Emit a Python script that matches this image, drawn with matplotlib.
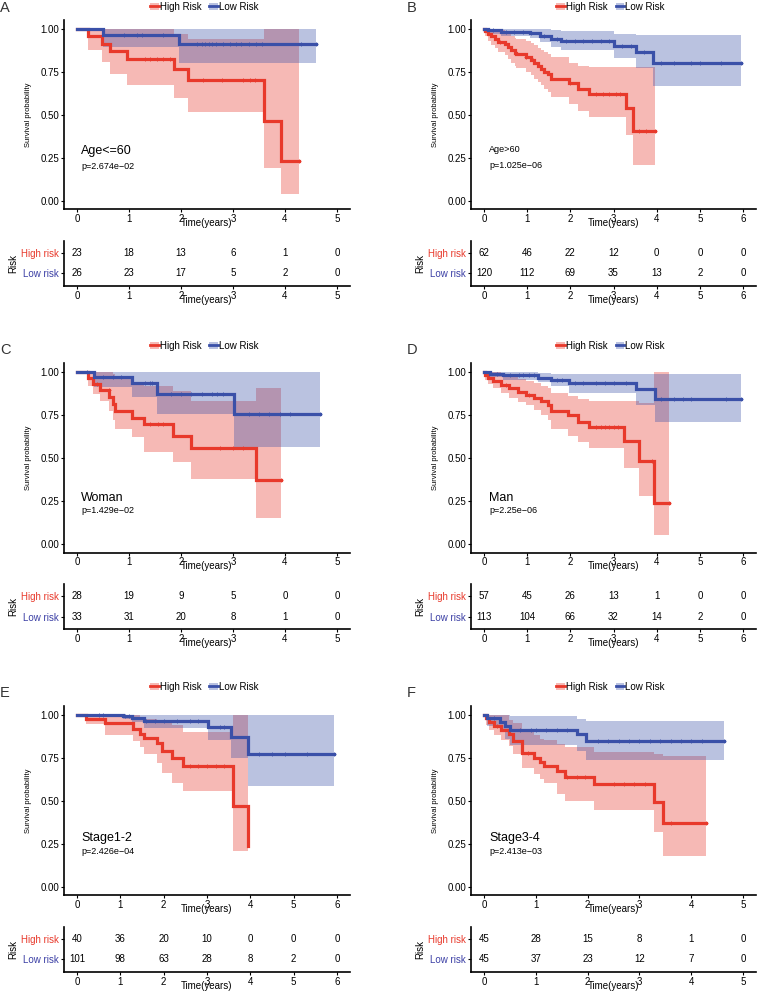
import numpy as np
import matplotlib.pyplot as plt
from matplotlib.patches import Patch
from matplotlib.lines import Line2D

plt.rcParams['font.family'] = ['Liberation Sans', 'DejaVu Sans']

RED = '#E8392B'
BLUE = '#3A50A8'
LOWTXT = '#3B3FA5'

# ---------------- panel A : Age<=60 ----------------
a_high_t = [0, 0.22, 0.48, 0.64, 0.96, 1.87, 2.13, 3.6, 3.93]
a_high_s = [1, 0.957, 0.913, 0.87, 0.826, 0.764, 0.70, 0.463, 0.232]
a_high_lcl = [1, 0.877, 0.805, 0.736, 0.674, 0.596, 0.516, 0.19, 0.04]
a_high_ucl = [1, 1, 1, 1, 1, 0.97, 0.94, 1, 1]
a_high_end = 4.27
a_high_cens = [1.31, 1.41, 1.53, 1.66, 1.79, 2.43, 2.78, 3.2, 3.32, 3.42, 4.27]
a_low_t = [0, 0.5, 1.97]
a_low_s = [1, 0.962, 0.912]
a_low_lcl = [1, 0.895, 0.80]
a_low_ucl = [1, 1, 1]
a_low_end = 4.6
a_low_cens = [0.9, 1.15, 1.25, 1.66, 2.3, 2.4, 2.47, 2.54, 2.6, 2.68, 2.8,
              2.95, 3.05, 3.15, 3.3, 3.45, 3.55, 4.3, 4.6]
a_risk_high = [23, 18, 13, 6, 1, 0]
a_risk_low = [26, 23, 17, 5, 2, 0]

# ---------------- panel B : Age>60 ----------------
b_high_t = [0, 0.03, 0.09, 0.17, 0.25, 0.32, 0.48, 0.55, 0.63, 0.71, 0.75, 0.98,
            1.09, 1.17, 1.25, 1.32, 1.40, 1.48, 1.55, 1.98, 2.17, 2.44, 3.28, 3.46]
b_high_s = [1, 0.985, 0.97, 0.955, 0.94, 0.925, 0.91, 0.895, 0.875, 0.86, 0.85, 0.835,
            0.815, 0.80, 0.78, 0.765, 0.75, 0.735, 0.71, 0.685, 0.65, 0.62, 0.54, 0.405]
b_high_lcl = [1, 0.955, 0.93, 0.905, 0.885, 0.865, 0.845, 0.825, 0.80, 0.785, 0.77, 0.75,
              0.73, 0.71, 0.69, 0.67, 0.65, 0.63, 0.60, 0.56, 0.52, 0.485, 0.38, 0.205]
b_high_ucl = [1, 1, 1, 1, 1, 0.99, 0.98, 0.97, 0.955, 0.945, 0.94, 0.93,
              0.915, 0.905, 0.89, 0.875, 0.865, 0.855, 0.835, 0.80, 0.78, 0.775, 0.775, 0.775]
b_high_end = 3.95
b_high_cens = [0.37, 0.98, 1.14, 2.0, 2.6, 2.75, 2.9, 3.05, 3.15, 3.6, 3.75, 3.95]
b_low_t = [0, 0.1, 0.4, 1.06, 1.29, 1.56, 1.79, 3.02, 3.52, 3.91]
b_low_s = [1, 0.99, 0.98, 0.972, 0.955, 0.94, 0.928, 0.897, 0.866, 0.80]
b_low_lcl = [1, 0.97, 0.955, 0.945, 0.92, 0.895, 0.875, 0.83, 0.77, 0.665]
b_low_ucl = [1, 1, 1, 1, 0.995, 0.99, 0.985, 0.97, 0.965, 0.96]
b_low_end = 5.95
b_low_cens = [0.2, 0.5, 0.7, 0.9, 1.1, 1.4, 1.7, 1.9, 2.1, 2.3, 2.5, 2.7, 2.9,
              3.2, 3.4, 3.7, 4.1, 4.4, 4.8, 5.0, 5.5, 5.95]
b_risk_high = [62, 46, 22, 12, 0, 0, 0]
b_risk_low = [120, 112, 69, 35, 13, 2, 0]

# ---------------- panel C : Woman ----------------
c_high_t = [0, 0.22, 0.31, 0.45, 0.62, 0.70, 0.735, 1.05, 1.28, 1.85, 2.2, 3.44]
c_high_s = [1, 0.965, 0.93, 0.895, 0.855, 0.815, 0.775, 0.735, 0.695, 0.63, 0.555, 0.37]
c_high_lcl = [1, 0.92, 0.87, 0.83, 0.77, 0.72, 0.67, 0.62, 0.535, 0.475, 0.377, 0.15]
c_high_ucl = [1, 1, 1, 1, 1, 0.99, 0.97, 0.94, 0.92, 0.89, 0.83, 0.905]
c_high_end = 3.93
c_high_cens = [0.38, 0.61, 1.4, 1.55, 1.65, 2.75, 3.0, 3.2, 3.93]
c_low_t = [0, 0.32, 1.05, 1.53, 3.02]
c_low_s = [1, 0.97, 0.938, 0.87, 0.758]
c_low_lcl = [1, 0.91, 0.855, 0.755, 0.565]
c_low_ucl = [1, 1, 1, 1, 1]
c_low_end = 4.67
c_low_cens = [0.2, 0.5, 0.7, 0.85, 1.3, 1.4, 1.45, 1.8, 2.0, 2.2, 2.4, 2.6, 2.7,
              2.8, 3.3, 3.5, 3.7, 3.9, 4.1, 4.67]
c_risk_high = [28, 19, 9, 5, 0, 0]
c_risk_low = [33, 31, 20, 8, 1, 0]

# ---------------- panel D : Man ----------------
d_high_t = [0, 0.03, 0.09, 0.21, 0.40, 0.59, 0.78, 0.98, 1.17, 1.32, 1.48, 1.55,
            1.94, 2.17, 2.44, 3.25, 3.59, 3.94]
d_high_s = [1, 0.983, 0.965, 0.945, 0.925, 0.905, 0.885, 0.865, 0.85, 0.83, 0.81, 0.775,
            0.75, 0.71, 0.68, 0.60, 0.48, 0.24]
d_high_lcl = [1, 0.955, 0.93, 0.905, 0.875, 0.85, 0.825, 0.805, 0.78, 0.75, 0.72, 0.67,
              0.625, 0.595, 0.555, 0.44, 0.28, 0.05]
d_high_ucl = [1, 1, 1, 1, 0.99, 0.975, 0.96, 0.945, 0.935, 0.92, 0.905, 0.88,
              0.86, 0.84, 0.83, 0.83, 0.82, 1.0]
d_high_end = 4.28
d_high_cens = [0.5, 1.05, 2.6, 2.7, 2.8, 2.9, 3.0, 3.1, 3.9, 4.28]
d_low_t = [0, 0.14, 0.45, 1.25, 1.55, 1.98, 3.52, 3.95]
d_low_s = [1, 0.99, 0.98, 0.967, 0.953, 0.938, 0.9, 0.84]
d_low_lcl = [1, 0.97, 0.955, 0.94, 0.92, 0.88, 0.81, 0.71]
d_low_ucl = [1, 1, 1, 0.995, 0.99, 0.985, 0.99, 0.99]
d_low_end = 5.95
d_low_cens = [0.3, 0.6, 0.8, 0.9, 1.05, 1.15, 1.7, 1.8, 2.1, 2.3, 2.6, 2.8, 3.0,
              3.3, 4.1, 4.4, 4.6, 4.8, 5.6, 5.95]
d_risk_high = [57, 45, 26, 13, 1, 0, 0]
d_risk_low = [113, 104, 66, 32, 14, 2, 0]

# ---------------- panel E : Stage1-2 ----------------
e_high_t = [0, 0.215, 0.64, 1.30, 1.45, 1.55, 1.85, 1.95, 2.2, 2.45, 3.6, 3.94]
e_high_s = [1, 0.976, 0.95, 0.915, 0.89, 0.865, 0.835, 0.79, 0.745, 0.703, 0.468, 0.235]
e_high_lcl = [1, 0.944, 0.88, 0.845, 0.81, 0.77, 0.72, 0.66, 0.603, 0.555, 0.208, 0.208]
e_high_ucl = [1, 1, 1, 0.995, 0.985, 0.975, 0.96, 0.95, 0.94, 0.9, 1.0, 1.0]
e_high_end = 3.94
e_high_cens = [2.6, 2.8, 3.0, 3.2, 3.4]
e_low_t = [0, 1.05, 1.27, 1.55, 3.03, 3.55, 3.94]
e_low_s = [1, 0.99, 0.98, 0.962, 0.927, 0.867, 0.771]
e_low_lcl = [1, 0.975, 0.955, 0.92, 0.85, 0.75, 0.585]
e_low_ucl = [1, 1, 1, 1, 1, 1, 1]
e_low_end = 5.93
e_low_cens = [0.5, 0.6, 1.1, 1.2, 1.6, 1.8, 2.0, 2.3, 2.6, 2.8, 3.3, 3.4,
              4.2, 4.5, 4.8, 5.3, 5.93]
e_risk_high = [40, 36, 20, 10, 0, 0, 0]
e_risk_low = [101, 98, 63, 28, 8, 2, 0]

# ---------------- panel F : Stage3-4 ----------------
f_high_t = [0, 0.03, 0.1, 0.2, 0.32, 0.48, 0.57, 0.74, 0.96, 1.08, 1.16, 1.4, 1.57,
            2.13, 3.28, 3.45]
f_high_s = [1, 0.978, 0.956, 0.933, 0.91, 0.888, 0.845, 0.775, 0.75, 0.725, 0.7, 0.67,
            0.64, 0.595, 0.49, 0.372]
f_high_lcl = [1, 0.94, 0.91, 0.88, 0.85, 0.82, 0.77, 0.69, 0.655, 0.625, 0.6, 0.54,
              0.5, 0.447, 0.318, 0.18]
f_high_ucl = [1, 1, 1, 1, 1, 0.97, 0.95, 0.9, 0.88, 0.86, 0.85, 0.83, 0.81,
              0.785, 0.77, 0.76]
f_high_end = 4.28
f_high_cens = [0.25, 0.85, 1.6, 1.8, 1.95, 2.5, 2.7, 2.9, 3.1, 3.6, 4.28]
f_low_t = [0, 0.06, 0.3, 0.4, 0.5, 1.8, 1.97]
f_low_s = [1, 0.978, 0.956, 0.933, 0.911, 0.888, 0.845]
f_low_lcl = [1, 0.935, 0.9, 0.86, 0.825, 0.79, 0.735]
f_low_ucl = [1, 1, 1, 1, 0.99, 0.975, 0.965]
f_low_end = 4.63
f_low_cens = [0.2, 0.7, 0.9, 1.0, 1.2, 1.4, 1.6, 2.2, 2.4, 2.6, 2.8, 3.0, 3.2,
              3.4, 3.6, 3.8, 4.0, 4.2, 4.63]
f_risk_high = [45, 28, 15, 8, 1, 0]
f_risk_low = [45, 37, 23, 12, 7, 0]

letters = ['A', 'B', 'C', 'D', 'E', 'F']
subgroups = ['Age<=60', 'Age>60', 'Woman', 'Man', 'Stage1-2', 'Stage3-4']
pvalues = ['p=2.674e\u221202', 'p=1.025e\u221206', 'p=1.429e\u221202',
           'p=2.25e\u221206', 'p=2.426e\u221204', 'p=2.413e\u221203']
xmaxes = [5, 6, 5, 6, 6, 5]

# ---------------- layout (pixels) ----------------
W, H = 757, 992
cols = [(64, 350), (471, 756)]
tops = [20, 363.3, 706]
legend_gap = [13.3, 17.6, 19.3]
letter_y = [8.3, 350, 693.3]
letter_x = [0, 407]
KM_H = 189.3
TAB_Y0, TAB_Y1 = 220.7, 265.7

fig = plt.figure(figsize=(W / 100, H / 100), dpi=100)


def box(x0, y0, x1, y1):
    return [x0 / W, 1 - y1 / H, (x1 - x0) / W, (y1 - y0) / H]


def draw_fill(ax, t, lcl, ucl, end, color):
    tt = np.append(t, end)
    ax.fill_between(tt, np.append(lcl, lcl[-1]), np.append(ucl, ucl[-1]),
                    step='post', color=color, alpha=0.35, lw=0)


def draw_curve(ax, t, s, end, cens, color):
    t = np.asarray(t, float)
    s = np.asarray(s, float)
    ax.step(np.append(t, end), np.append(s, s[-1]), where='post',
            color=color, lw=2.3, solid_joinstyle='miter')
    idx = np.searchsorted(t, cens, side='right') - 1
    ax.plot(cens, s[idx], '+', color=color, ms=3.2, mew=0.6)


panels = [
    (a_high_t, a_high_s, a_high_lcl, a_high_ucl, a_high_end, a_high_cens,
     a_low_t, a_low_s, a_low_lcl, a_low_ucl, a_low_end, a_low_cens, a_risk_high, a_risk_low),
    (b_high_t, b_high_s, b_high_lcl, b_high_ucl, b_high_end, b_high_cens,
     b_low_t, b_low_s, b_low_lcl, b_low_ucl, b_low_end, b_low_cens, b_risk_high, b_risk_low),
    (c_high_t, c_high_s, c_high_lcl, c_high_ucl, c_high_end, c_high_cens,
     c_low_t, c_low_s, c_low_lcl, c_low_ucl, c_low_end, c_low_cens, c_risk_high, c_risk_low),
    (d_high_t, d_high_s, d_high_lcl, d_high_ucl, d_high_end, d_high_cens,
     d_low_t, d_low_s, d_low_lcl, d_low_ucl, d_low_end, d_low_cens, d_risk_high, d_risk_low),
    (e_high_t, e_high_s, e_high_lcl, e_high_ucl, e_high_end, e_high_cens,
     e_low_t, e_low_s, e_low_lcl, e_low_ucl, e_low_end, e_low_cens, e_risk_high, e_risk_low),
    (f_high_t, f_high_s, f_high_lcl, f_high_ucl, f_high_end, f_high_cens,
     f_low_t, f_low_s, f_low_lcl, f_low_ucl, f_low_end, f_low_cens, f_risk_high, f_risk_low),
]
label_pos = [(0.085, 0.288, 0.20), (0.115, 0.296, 0.205), (0.085, 0.27, 0.193),
             (0.115, 0.27, 0.193), (0.1, 0.281, 0.206), (0.096, 0.281, 0.206)]
label_size = [9, 6.5, 9, 9, 9, 9]

for i, p in enumerate(panels):
    (ht, hs, hl, hu, he, hc, lt, ls, ll, lu, le, lc, rh, rl) = p
    row, col = i // 2, i % 2
    x0, x1 = cols[col]
    top = tops[row]
    xmax = xmaxes[i]
    wpx = x1 - x0

    ax = fig.add_axes(box(x0, top, x1, top + KM_H))
    draw_fill(ax, ht, hl, hu, he, RED)
    draw_fill(ax, lt, ll, lu, le, BLUE)
    draw_curve(ax, ht, hs, he, hc, RED)
    draw_curve(ax, lt, ls, le, lc, BLUE)

    ax.set_xlim(-0.05 * xmax, 1.05 * xmax)
    ax.set_ylim(-0.05, 1.05)
    ax.set_xticks(range(xmax + 1))
    ax.set_yticks([0, 0.25, 0.5, 0.75, 1.0])
    ax.set_yticklabels(['0.00', '0.25', '0.50', '0.75', '1.00'])
    for sp in ['top', 'right']:
        ax.spines[sp].set_visible(False)
    for sp in ['left', 'bottom']:
        ax.spines[sp].set_linewidth(1.2)
    ax.tick_params(length=2.5, width=0.8, pad=1, labelsize=7)
    ax.text(0.5, -13.7 / KM_H, 'Time(years)', transform=ax.transAxes,
            ha='center', va='center', fontsize=7)
    ax.text(-35.7 / wpx, 0.5, 'Survival probability', transform=ax.transAxes,
            rotation=90, ha='center', va='center', fontsize=5.5)

    lx, ly, py = label_pos[i]
    ax.text(lx, ly, subgroups[i], fontsize=label_size[i], ha='left', va='center')
    ax.text(lx, py, pvalues[i], fontsize=6.5, ha='left', va='center')

    handles = [(Patch(facecolor=RED, alpha=0.35, lw=0), Line2D([], [], color=RED, lw=2)),
               (Patch(facecolor=BLUE, alpha=0.35, lw=0), Line2D([], [], color=BLUE, lw=2))]
    ax.legend(handles, ['High Risk', 'Low Risk'], loc='center',
              bbox_to_anchor=(0.49, 1 + legend_gap[row] / KM_H), ncol=2,
              frameon=False, fontsize=7, handlelength=0.9, handleheight=0.7,
              handletextpad=0.1, columnspacing=0.8, borderpad=0, borderaxespad=0)

    fig.text(letter_x[col] / W, 1 - letter_y[row] / H, letters[i], fontsize=10.5,
             color='#333333', ha='left', va='center')

    # risk table
    tab = fig.add_axes(box(x0, top + TAB_Y0, x1, top + TAB_Y1))
    tab.set_xlim(-0.05 * xmax, 1.05 * xmax)
    tab.set_ylim(0.4, 2.6)
    times = list(range(xmax + 1))
    for tx, n in zip(times, rh):
        tab.text(tx, 2, str(n), ha='center', va='center', fontsize=7)
    for tx, n in zip(times, rl):
        tab.text(tx, 1, str(n), ha='center', va='center', fontsize=7)
    tab.set_xticks(times)
    tab.set_yticks([1, 2])
    tab.set_yticklabels(['Low risk', 'High risk'])
    tab.get_yticklabels()[0].set_color(LOWTXT)
    tab.get_yticklabels()[1].set_color(RED)
    for sp in ['top', 'right']:
        tab.spines[sp].set_visible(False)
    for sp in ['left', 'bottom']:
        tab.spines[sp].set_linewidth(1.2)
    tab.tick_params(length=2.5, width=0.8, pad=1, labelsize=7)
    tab.text(0.5, -14.5 / 45, 'Time(years)', transform=tab.transAxes,
             ha='center', va='center', fontsize=7)
    tab.text(-50.5 / wpx, 0.5, 'Risk', transform=tab.transAxes,
             rotation=90, ha='center', va='center', fontsize=7)

fig.savefig('out.png', dpi=100)
